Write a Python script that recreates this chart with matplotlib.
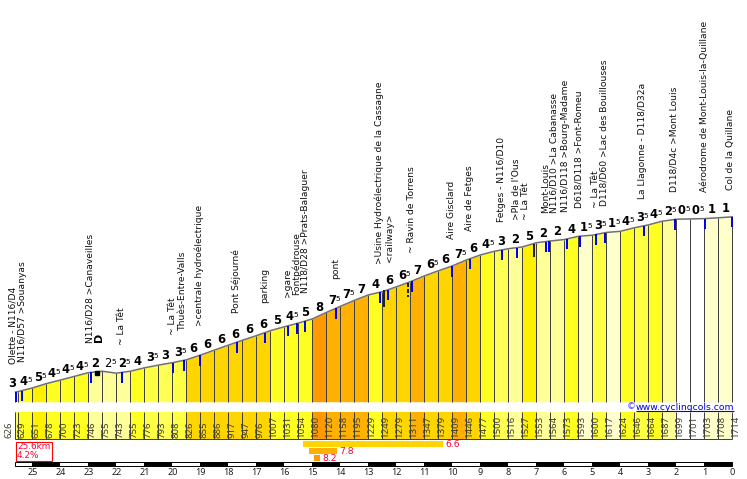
import numpy as np
import matplotlib
matplotlib.use('Agg')
import matplotlib.pyplot as plt
from matplotlib.patches import Rectangle

# altitude at each profile point (km to the top, metres)
profile_km = [25.6] + [25.5 - 0.5 * i for i in range(52)]
altitudes = [626, 629, 651, 678, 700, 723, 746, 755, 743, 755, 776, 793, 808, 826,
             855, 886, 917, 947, 976, 1007, 1031, 1054, 1080, 1120, 1158, 1195, 1229,
             1249, 1279, 1311, 1347, 1379, 1409, 1446, 1477, 1500, 1516, 1527, 1553,
             1564, 1573, 1593, 1600, 1617, 1624, 1646, 1664, 1687, 1699, 1701, 1703,
             1708, 1714]
# gradient of each segment, as printed above the profile
grades = [3, 4.5, 5.5, 4.5, 4.5, 4.5, 2, 2.5, 2.5, 4, 3.5, 3, 3.5, 6, 6, 6, 6, 6, 6,
          5, 4.5, 5, 8, 7.5, 7.5, 7, 4, 6, 6.5, 7, 6.5, 6, 7.5, 6, 4.5, 3, 2, 5, 2, 2,
          4, 1.5, 3.5, 1.5, 4.5, 3.5, 4.5, 2.5, 0.5, 0.5, 1, 1]

poi_names = ['Olette - N116/D4', 'N116/D57 >Souanyas', 'N116/D28 >Canaveilles', '~ La Têt',
             '~ La Têt', 'Thuès-Entre-Valls', '>centrale hydroélectrique', 'Pont Séjourné',
             'parking', '>gare', 'Fontpédrouse', 'N118/D28 >Prats-Balaguer', 'pont',
             '>Usine Hydroélectrique de la Cassagne', '<railway>', '~ Ravin de Torrens',
             'Aire Gisclard', 'Aire de Fetges', 'Fetges - N116/D10', ">Pla de l'Ous",
             '~ La Têt', 'Mont-Louis', 'N116/D10 >La Cabanasse', 'N116/D118 >Bourg-Madame',
             'D618/D118 >Font-Romeu', '~ La Têt', 'D118/D60 >Lac des Bouillouses',
             'La Llagonne - D118/D32a', 'D118/D4c >Mont Louis',
             'Aérodrome de Mont-Louis-la-Quillane', 'Col de la Quillane']
poi_km = [25.69, 25.34, 22.94, 21.81, 20.01, 19.62, 19.04, 17.73, 16.69, 15.88, 15.56,
          15.24, 14.15, 12.61, 12.25, 11.46, 10.04, 9.39, 8.24, 7.69, 7.40, 6.68, 6.36,
          5.94, 5.48, 4.89, 4.57, 3.19, 2.07, 1.0, 0.05]
# where the bottom of each rotated label sits (pixels from the top)
poi_bottom = [364, 362, 343, 345, 335, 330, 326, 313, 303, 297, 295, 293, 279, 264, 262,
              253, 239, 231, 222, 220, 220, 213, 213, 212, 208, 208, 206, 199, 192, 192, 190]

junction_km = [25.59, 25.38, 22.91, 21.8, 19.98, 19.59, 19.01, 17.7, 16.7, 15.88, 15.55,
               15.26, 14.15, 12.58, 12.3, 11.45, 10.01, 9.37, 8.24, 7.69, 6.65, 6.55,
               5.91, 5.45, 4.87, 4.55, 3.17, 2.04, 0.98, 0.01]
rail_km = 12.43
rail_tunnel_km = 11.59
bridge_km = 7.09
tunnel_km = 22.69

# steepest stretches: start km, end km, gradient
steep_start = [15.33, 15.1, 14.94]
steep_end = [10.33, 14.1, 14.72]
steep_grade = [6.6, 7.8, 8.2]

km_ticks = list(range(25, -1, -1))

COLORS = {0.5: '#FFFFFF', 1: '#FFFFCC', 1.5: '#FFFFCC', 2: '#FFFF99', 2.5: '#FFFF99',
          3: '#FFFF55', 3.5: '#FFFF44', 4: '#FFFF22', 4.5: '#FFFF22', 5: '#FFF000',
          5.5: '#FFF000', 6: '#FFD500', 6.5: '#FFD500', 7: '#FFB000', 7.5: '#FFB000',
          8: '#FF9900'}
FONT = 'Noto Sans'
LINE = '#404040'


def km_at(px):
    return (732.3 - px) / 28.0


def seg_color(i):
    # these two columns print as the paler yellow even at 5%
    if altitudes[i] in (1007, 1054):
        return '#FFFF22'
    return COLORS[grades[i]]


fig = plt.figure(figsize=(7.47, 4.79), dpi=100)
# same km axis on both, one in metres for the profile, one in pixels for the strips
xlim = (km_at(0), km_at(747))
ax = fig.add_axes([0, 0, 1, 1])
ax.set_xlim(xlim)
ax.set_ylim(626 - (479 - 392) / 0.161, 626 + 392 / 0.161)
ax.axis('off')
axp = fig.add_axes([0, 0, 1, 1])
axp.set_xlim(xlim)
axp.set_ylim(479, 0)
axp.axis('off')
axp.patch.set_alpha(0)

y_base = ax.get_ylim()[0] + (479 - 401.7) / 0.161

for i in range(len(grades)):
    x = [profile_km[i], profile_km[i + 1]]
    y = [altitudes[i], altitudes[i + 1]]
    ax.fill_between(x, y, y_base, color=seg_color(i), lw=0)
    axp.add_patch(Rectangle((x[0], 411.7), x[1] - x[0], 27, fc=seg_color(i), ec='none'))

ax.vlines(profile_km, y_base, altitudes, color=LINE, lw=0.72)
axp.vlines(profile_km, 411.7, 438.7, color=LINE, lw=0.72)
axp.hlines(438.7, profile_km[0], profile_km[-1], color=LINE, lw=0.72)
ax.plot(profile_km, altitudes, color='#707070', lw=1.1)

# road junctions and the other marks, hanging from the profile line
alt_at = lambda k: np.interp(-k, -np.array(profile_km), altitudes)
for k in junction_km:
    ax.plot([k, k], [alt_at(k), alt_at(k) - 10.5 / 0.161], color='#0000FF', lw=1.44,
            solid_capstyle='butt')
ax.plot([rail_km, rail_km], [alt_at(rail_km) + 5, alt_at(rail_km) - 15.5 / 0.161],
        color='#202020', lw=1.44, solid_capstyle='butt')
ax.plot([rail_tunnel_km, rail_tunnel_km], [alt_at(rail_tunnel_km), alt_at(rail_tunnel_km) - 14 / 0.161],
        color='#202020', lw=1.44, ls=(0, (2, 1)))
ax.plot([bridge_km, bridge_km], [alt_at(bridge_km), alt_at(bridge_km) - 13.5 / 0.161],
        color='#202020', lw=1.44, solid_capstyle='butt')
ax.plot([tunnel_km], [alt_at(tunnel_km) - 1 / 0.161], 's', color='black', ms=2.2)

# gradient figures above the profile
for i, g in enumerate(grades):
    k = km_at(12) if i == 0 else 25.25 - 0.5 * (i - 1)
    top = alt_at(k) if i else altitudes[0]
    descending = altitudes[i + 1] < altitudes[i]
    half = g != int(g)
    dx = -1.4 if half else 0
    ax.annotate(str(int(g)), (k, top), xytext=(dx, 8.5), textcoords='offset pixels',
                ha='center', va='center', family='DejaVu Sans', fontsize=8.3,
                fontweight='normal' if descending else 'bold', color='black')
    if half:
        ax.annotate('5', (k, top), xytext=(dx + 6, 10), textcoords='offset pixels',
                    ha='center', va='center', family='DejaVu Sans', fontsize=5.4, color='black')

for name, k, b in zip(poi_names, poi_km, poi_bottom):
    axp.text(k, b, name, rotation=90, ha='center', va='bottom', family='DejaVu Sans',
             fontsize=6.6, color='#101010')
axp.text(km_at(99), 337, 'D', rotation=90, ha='center', va='center', family='DejaVu Sans',
         fontsize=8, fontweight='bold', color='black')

# altitude strip
axp.text(km_at(8.5), 437.5, str(altitudes[0]), rotation=90, ha='center', va='bottom',
         family=FONT, fontsize=6.9, color='#404030')
for i in range(1, len(altitudes)):
    axp.text(profile_km[i] - 3.7 / 28, 437.5, str(altitudes[i]), rotation=90, ha='center',
             va='bottom', family=FONT, fontsize=6.9, color='#404030')

# distance and mean gradient box
axp.add_patch(Rectangle((km_at(15.6), 441.5), -36 / 28, 19.5, fc='white', ec='#FF0000', lw=0.8))
axp.text(km_at(17), 446.6, '25.6km', ha='left', va='center', family='DejaVu Sans',
         fontsize=6.4, color='#FF0033')
axp.text(km_at(17), 455.6, '4.2%', ha='left', va='center', family='DejaVu Sans',
         fontsize=6.4, color='#FF0033')

# steepest stretches under the strip
for s, e, g, y, c in zip(steep_start, steep_end, steep_grade, [441, 448, 455],
                         ['#FFD500', '#FFB000', '#FF9900']):
    axp.add_patch(Rectangle((s, y), e - s, 6.2, fc=c, ec='none'))
    axp.text(e - 2 / 28, y + 3.2, str(g), ha='left', va='center', family='DejaVu Sans',
             fontsize=6.7, color='#FF0033')

# km scale bar
axp.add_patch(Rectangle((25.6, 462.3), -25.6, 3.7, fc='white', ec='black', lw=0.7))
for k in km_ticks[:-1]:
    if k % 2 == 1:
        axp.add_patch(Rectangle((k, 462.3), -1, 3.7, fc='black', ec='none'))
for k in km_ticks:
    axp.text(k, 472.5, str(k), ha='center', va='center', family=FONT, fontsize=6.5, color='#202020')

axp.text(km_at(627), 407, '©', ha='left', va='center', family='DejaVu Sans', fontsize=6.5,
         color='#5040FF')
axp.text(km_at(636), 407, 'www.cyclingcols.com', ha='left', va='center', family='DejaVu Sans',
         fontsize=6.7, color='#0000E0')
axp.hlines(411, km_at(636), km_at(734), color='#0000FF', lw=0.8)

fig.savefig('out.png', dpi=100)
